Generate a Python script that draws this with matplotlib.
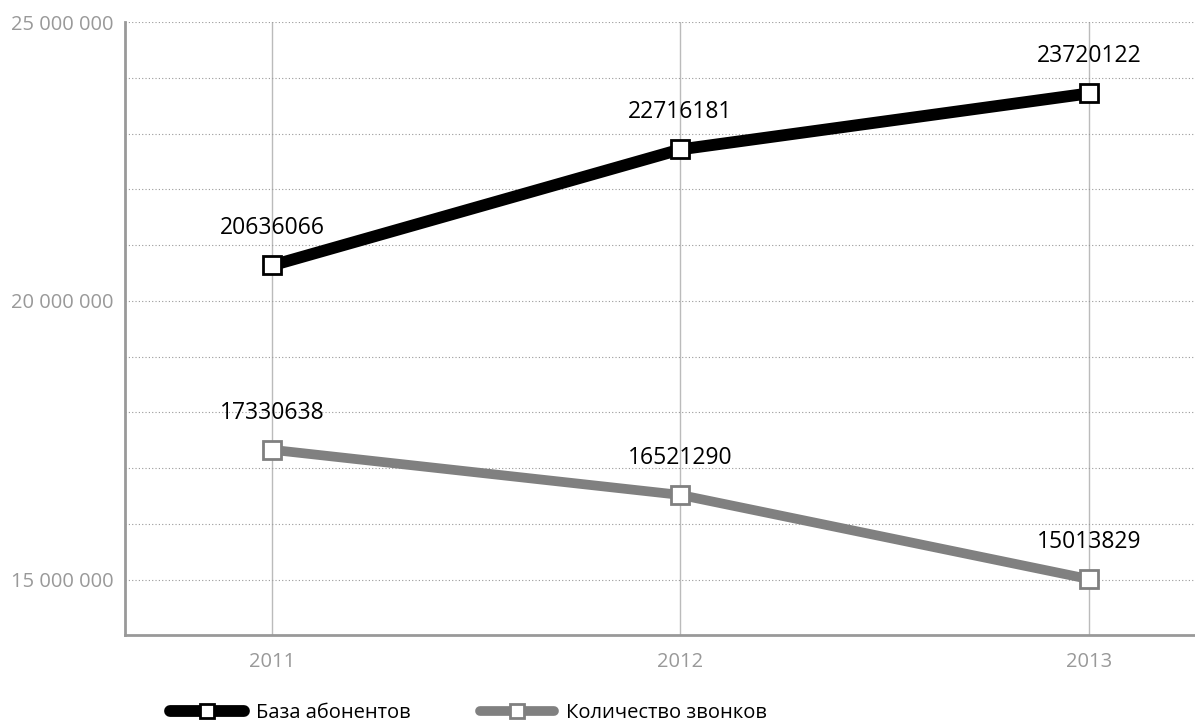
import numpy as np
import matplotlib
matplotlib.use("Agg")
from matplotlib import pyplot as plt
from matplotlib.ticker import MultipleLocator, FuncFormatter

plt.rcParams['font.family'] = ['Open Sans', 'DejaVu Sans']

years = ["2011", "2012", "2013"]
subscribers = [20636066, 22716181, 23720122]
calls = [17330638, 16521290, 15013829]
series_names = ["База абонентов", "Количество звонков"]

fig = plt.figure(figsize=(11.95, 7.24), dpi=100)
ax = fig.add_axes([0.1046, 0.1229, 0.8954, 0.8467])

x = np.arange(len(years))
ax.plot(x, subscribers, color="black", lw=8.5, solid_capstyle="round",
        marker="s", ms=13, mfc="white", mec="black", mew=2, label=series_names[0], zorder=4)
ax.plot(x, calls, color="#808080", lw=7, solid_capstyle="round",
        marker="s", ms=13, mfc="white", mec="#808080", mew=2, label=series_names[1], zorder=3)

for xi, v in zip(x, subscribers):
    ax.annotate(str(v), (xi, v), xytext=(0, 18), textcoords="offset points",
                ha="center", va="bottom", fontsize=16.5, color="black")
for xi, v in zip(x, calls):
    ax.annotate(str(v), (xi, v), xytext=(0, 18), textcoords="offset points",
                ha="center", va="bottom", fontsize=16.5, color="black")

ax.set_xlim(-0.36, 2.26)
ax.set_ylim(14.01e6, 25e6)
ax.set_xticks(x)
ax.set_xticklabels(years)
ax.yaxis.set_major_locator(MultipleLocator(5e6))
ax.yaxis.set_minor_locator(MultipleLocator(1e6))
ax.yaxis.set_major_formatter(FuncFormatter(lambda v, p: f"{int(v):,}".replace(",", " ")))

ax.grid(axis="y", which="both", ls=(0, (1, 2)), color="#999999", lw=0.8)
ax.grid(axis="x", ls="-", color="#bbbbbb", lw=1)
ax.set_axisbelow(True)

for s in ["top", "right"]:
    ax.spines[s].set_visible(False)
for s in ["left", "bottom"]:
    ax.spines[s].set_color("#999999")
    ax.spines[s].set_linewidth(2)

ax.tick_params(axis="both", which="both", length=0, labelsize=14.5, colors="#999999")
ax.tick_params(axis="x", pad=12)
ax.tick_params(axis="y", pad=8)

fig.legend(loc="lower left", bbox_to_anchor=(0.127, -0.024), ncol=2, frameon=False,
           fontsize=14.5, handlelength=3.7, columnspacing=3.4, handletextpad=0.6,
           markerscale=0.8)

fig.savefig("out.png", dpi=100)
